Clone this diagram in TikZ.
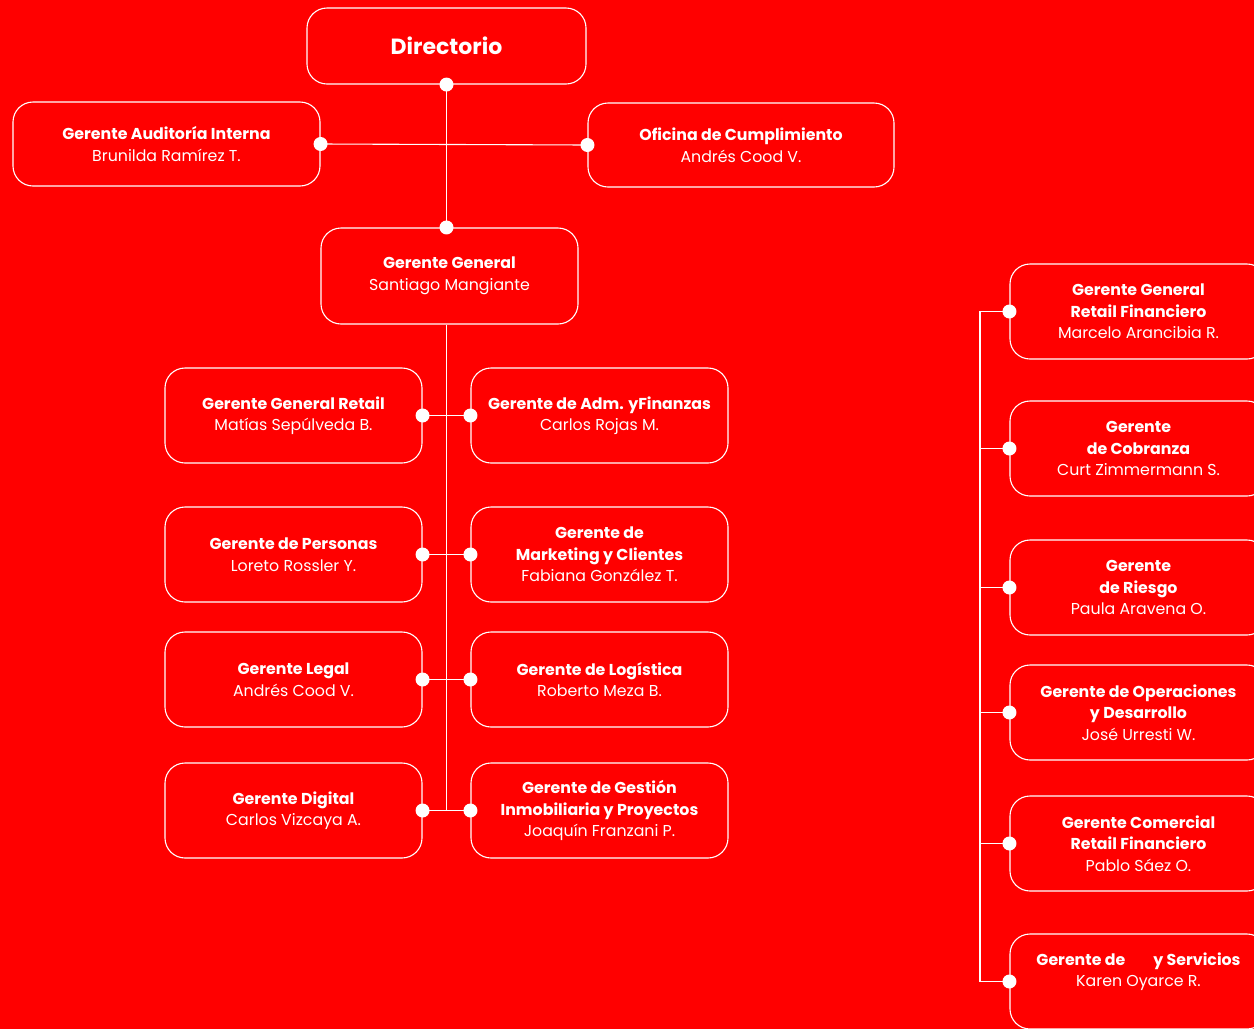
\documentclass[tikz,border=0pt]{standalone}
\usepackage{fontspec}
\setmainfont{Poppins}
\usetikzlibrary{positioning}
\definecolor{fondo}{HTML}{FF0000}
\begin{document}
\begin{tikzpicture}[x=1pt,y=-1pt,
  caja/.style={draw=white,line width=1.1pt,rounded corners=20pt,text=white,align=center,
    minimum width=257pt,minimum height=95pt,inner sep=0pt,font=\fontsize{15.8}{21.5}\selectfont},
  texto/.style={text=white,align=center,inner sep=0pt,font=\fontsize{15.8}{21.5}\selectfont},
  punto/.style={circle,fill=white,inner sep=0pt,minimum size=14pt},
  linea/.style={draw=white,line width=1.1pt}]
\fill[fondo] (0,0) rectangle (1254,1029);
\clip (0,0) rectangle (1254,1029);

\node[caja,minimum width=279pt,minimum height=76pt,font=\fontsize{22}{26}\selectfont\bfseries] (dir) at (446.5,46) {Directorio};
\node[caja,minimum width=307pt,minimum height=84pt] (aud) at (166.5,144) {\textbf{Gerente Auditoría Interna}\\Brunilda Ramírez T.};
\node[caja,minimum width=306pt,minimum height=84pt] (cum) at (741,145) {\textbf{Oficina de Cumplimiento}\\Andrés Cood V.};
\node[caja,minimum height=96pt] (gg) at (449.5,276) {\textbf{Gerente General}\\Santiago Mangiante};

% columnas bajo gerencia general
\node[caja] (l1) at (293.5,415.5) {\textbf{Gerente General Retail}\\Matías Sepúlveda B.};
\node[caja] (r1) at (599.5,415.5) {\textbf{Gerente de Adm. yFinanzas}\\Carlos Rojas M.};
\node[caja] (l2) at (293.5,554.5) {\textbf{Gerente de Personas}\\Loreto Rossler Y.};
\node[caja] (r2) at (599.5,554.5) {\textbf{Gerente de}\\\textbf{Marketing y Clientes}\\Fabiana González T.};
\node[caja] (l3) at (293.5,679.5) {\textbf{Gerente Legal}\\Andrés Cood V.};
\node[caja] (r3) at (599.5,679.5) {\textbf{Gerente de Logística}\\Roberto Meza B.};
\node[caja] (l4) at (293.5,810.5) {\textbf{Gerente Digital}\\Carlos Vizcaya A.};
\node[caja] (r4) at (599.5,810.5) {\textbf{Gerente de Gestión}\\\textbf{Inmobiliaria y Proyectos}\\Joaquín Franzani P.};

% retail financiero
\node[caja] (f1) at (1138.5,311.5) {\textbf{Gerente General}\\\textbf{Retail Financiero}\\Marcelo Arancibia R.};
\node[caja] (f2) at (1138.5,448.5) {\textbf{Gerente}\\\textbf{de Cobranza}\\Curt Zimmermann S.};
\node[caja] (f3) at (1138.5,587.5) {\textbf{Gerente}\\\textbf{de Riesgo}\\Paula Aravena O.};
\node[caja] (f4) at (1138.5,712.5) {\textbf{Gerente de Operaciones}\\\textbf{y Desarrollo}\\José Urresti W.};
\node[caja] (f5) at (1138.5,843.5) {\textbf{Gerente Comercial}\\\textbf{Retail Financiero}\\Pablo Sáez O.};
\node[caja] (f6) at (1138.5,981.5) {};
\node[texto] (f6t) at ([yshift=10pt]f6.center) {\textbf{Gerente de\hspace{28pt}y Servicios}\\Karen Oyarce R.};

\coordinate (bus) at (980,0);

\draw[linea] (dir.south) -- (dir.south |- gg.north);
\draw[linea] (aud.east) -- (cum.west);
\draw[linea] (gg.south -| dir.south) -- (dir.south |- l4.east);
\foreach \i in {1,...,4}{
  \draw[linea] (l\i.east) -- (r\i.west);
  \node[punto] at (l\i.east) {};
  \node[punto] at (r\i.west) {};
}
\draw[linea] (f1.west) -- (f1.west -| bus) -- (f6.west -| bus) -- (f6.west);
\foreach \i in {1,...,6}{
  \draw[linea] (f\i.west) -- (f\i.west -| bus);
  \node[punto] at (f\i.west) {};
}
\node[punto] at (dir.south) {};
\node[punto] at (dir.south |- gg.north) {};
\node[punto] at (aud.east) {};
\node[punto] at (cum.west) {};
\end{tikzpicture}
\end{document}
